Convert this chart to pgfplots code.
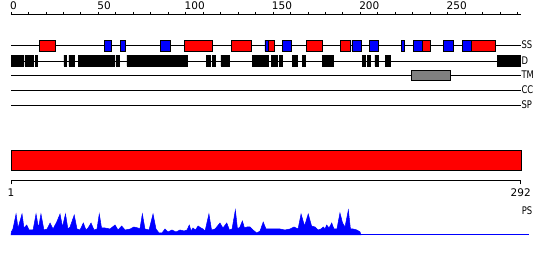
\documentclass[border=0pt]{standalone}
\usepackage{fontspec}
\setmainfont{DejaVu Sans}
\newfontfamily\narrowfont{DejaVu Sans}[FakeStretch=0.8]
\usepackage{pgfplots}
\pgfplotsset{compat=1.18}
\definecolor{ssred}{RGB}{255,0,0}
\definecolor{ssblue}{RGB}{0,0,255}
\definecolor{tmgray}{RGB}{128,128,128}
\begin{document}
\begin{tikzpicture}[x=1pt,y=1pt]
\useasboundingbox (0,0) rectangle (550,260);
% ---------- main canvas: x = sequence position, y = pixels from top
\begin{axis}[at={(0,0)}, anchor=south west, scale only axis,
  width=550pt, height=260pt, xmin=-6.298, xmax=308.6, ymin=0, ymax=260,
  y dir=reverse, hide axis, clip=false, unbounded coords=jump]
% track lines
\addplot[black, line width=1pt] coordinates {(0,45)(292,45)};
\addplot[black, line width=1pt] coordinates {(0,61)(292,61)};
\addplot[black, line width=1pt] coordinates {(0,75)(292,75)};
\addplot[black, line width=1pt] coordinates {(0,90)(292,90)};
\addplot[black, line width=1pt] coordinates {(0,105)(292,105)};
% SS red (helix)
\addplot[fill=ssred, draw=black, line width=0.8pt] coordinates {
(16.2,40)(25.6,40)(25.6,51)(16.2,51)(16.2,40)(nan,nan)
(99.2,40)(115.5,40)(115.5,51)(99.2,51)(99.2,40)(nan,nan)
(126.1,40)(137.8,40)(137.8,51)(126.1,51)(126.1,40)(nan,nan)
(147.5,40)(150.6,40)(150.6,51)(147.5,51)(147.5,40)(nan,nan)
(169.1,40)(178.2,40)(178.2,51)(169.1,51)(169.1,40)(nan,nan)
(188.5,40)(194.5,40)(194.5,51)(188.5,51)(188.5,40)(nan,nan)
(235.7,40)(240.1,40)(240.1,51)(235.7,51)(235.7,40)(nan,nan)
(263.8,40)(277.3,40)(277.3,51)(263.8,51)(263.8,40)
};
% SS blue (strand)
\addplot[fill=ssblue, draw=black, line width=0.8pt] coordinates {
(53.4,40)(57.6,40)(57.6,51)(53.4,51)(53.4,40)(nan,nan)
(62.6,40)(65.7,40)(65.7,51)(62.6,51)(62.6,40)(nan,nan)
(85.5,40)(91.4,40)(91.4,51)(85.5,51)(85.5,40)(nan,nan)
(145.4,40)(147.5,40)(147.5,51)(145.4,51)(145.4,40)(nan,nan)
(155.3,40)(160.7,40)(160.7,51)(155.3,51)(155.3,40)(nan,nan)
(195.2,40)(200.8,40)(200.8,51)(195.2,51)(195.2,40)(nan,nan)
(205.4,40)(210.5,40)(210.5,51)(205.4,51)(205.4,40)(nan,nan)
(223.5,40)(225.4,40)(225.4,51)(223.5,51)(223.5,40)(nan,nan)
(230.3,40)(235.7,40)(235.7,51)(230.3,51)(230.3,40)(nan,nan)
(247.5,40)(253.2,40)(253.2,51)(247.5,51)(247.5,40)(nan,nan)
(258.4,40)(263.8,40)(263.8,51)(258.4,51)(258.4,40)
};
% D (disorder)
\addplot[fill=black, draw=black, line width=0.6pt] coordinates {
(0,55)(7,55)(7,66)(0,66)(0,55)(nan,nan)
(8,55)(12.5,55)(12.5,66)(8,66)(8,55)(nan,nan)
(14,55)(15.3,55)(15.3,66)(14,66)(14,55)(nan,nan)
(30.3,55)(31.5,55)(31.5,66)(30.3,66)(30.3,55)(nan,nan)
(33.2,55)(36.5,55)(36.5,66)(33.2,66)(33.2,55)(nan,nan)
(38.4,55)(59,55)(59,66)(38.4,66)(38.4,55)(nan,nan)
(60.1,55)(61.8,55)(61.8,66)(60.1,66)(60.1,55)(nan,nan)
(66.4,55)(100.8,55)(100.8,66)(66.4,66)(66.4,55)(nan,nan)
(112,55)(114.3,55)(114.3,66)(112,66)(112,55)(nan,nan)
(115.5,55)(117,55)(117,66)(115.5,66)(115.5,55)(nan,nan)
(120.2,55)(124.8,55)(124.8,66)(120.2,66)(120.2,55)(nan,nan)
(138.2,55)(147.5,55)(147.5,66)(138.2,66)(138.2,55)(nan,nan)
(148.9,55)(152.7,55)(152.7,66)(148.9,66)(148.9,55)(nan,nan)
(153.8,55)(155.5,55)(155.5,66)(153.8,66)(153.8,55)(nan,nan)
(161,55)(163.7,55)(163.7,66)(161,66)(161,55)(nan,nan)
(166.8,55)(168.5,55)(168.5,66)(166.8,66)(166.8,55)(nan,nan)
(178.1,55)(184.8,55)(184.8,66)(178.1,66)(178.1,55)(nan,nan)
(201,55)(202.8,55)(202.8,66)(201,66)(201,55)(nan,nan)
(204.2,55)(205.6,55)(205.6,66)(204.2,66)(204.2,55)(nan,nan)
(208.4,55)(210.5,55)(210.5,66)(208.4,66)(208.4,55)(nan,nan)
(214.3,55)(217.4,55)(217.4,66)(214.3,66)(214.3,55)(nan,nan)
(278.4,55)(284,55)(284,66)(278.4,66)(278.4,55)(nan,nan)
(284.9,55)(291.8,55)(291.8,66)(284.9,66)(284.9,55)
};
% TM
\addplot[fill=tmgray, draw=black, line width=0.8pt] coordinates {
(229.2,70)(251.7,70)(251.7,80)(229.2,80)(229.2,70)
};
% big red bar
\addplot[fill=ssred, draw=black, line width=1pt] coordinates {
(0,150)(292,150)(292,170)(0,170)(0,150)
};
% track labels
\node[anchor=west, inner sep=0pt, font=\narrowfont\fontsize{10.5}{12}\selectfont] at (axis cs:292.2,45) {SS};
\node[anchor=west, inner sep=0pt, font=\narrowfont\fontsize{10.5}{12}\selectfont] at (axis cs:292.2,61) {D};
\node[anchor=west, inner sep=0pt, font=\narrowfont\fontsize{10.5}{12}\selectfont] at (axis cs:292.2,75) {TM};
\node[anchor=west, inner sep=0pt, font=\narrowfont\fontsize{10.5}{12}\selectfont] at (axis cs:292.2,90) {CC};
\node[anchor=west, inner sep=0pt, font=\narrowfont\fontsize{10.5}{12}\selectfont] at (axis cs:292.2,105) {SP};
\end{axis}
% ---------- top ruler
\begin{axis}[at={(11pt,245pt)}, anchor=north west, scale only axis,
  width=510pt, height=1pt, xmin=0, xmax=292, ymin=0, ymax=1,
  axis x line=top, axis y line=none, x axis line style={-, line width=1pt},
  xtick={0,50,...,250}, minor xtick={10,20,...,290},
  tick align=outside, major tick length=3pt, minor tick length=3pt,
  every tick/.style={black, line width=0.8pt},
  /pgf/number format/assume math mode=true,
  xticklabel style={anchor=south west, inner sep=0pt, xshift=-1.2pt, yshift=2.5pt,
    font=\fontsize{10.5}{12}\selectfont}]
\addplot[draw=none] coordinates {(0,0)(292,0)};
\end{axis}
% ---------- bottom ruler
\begin{axis}[at={(11pt,79.7pt)}, anchor=south west, scale only axis,
  width=509.7pt, height=1pt, xmin=1, xmax=292, ymin=0, ymax=1,
  axis x line=bottom, axis y line=none, x axis line style={-, line width=1pt},
  xtick={1,292}, tick align=outside, major tick length=4pt,
  every tick/.style={black, line width=0.8pt},
  /pgf/number format/assume math mode=true,
  xticklabel style={inner sep=0pt, yshift=-4pt, font=\fontsize{10.5}{12}\selectfont}]
\addplot[draw=none] coordinates {(1,0)(292,0)};
\end{axis}
% ---------- PS profile
\begin{axis}[at={(11pt,25pt)}, anchor=south west, scale only axis,
  width=509.7pt, height=25pt, xmin=1, xmax=292, ymin=0, ymax=25,
  hide axis, clip=false]
\addplot[fill=ssblue, draw=ssblue, line width=0.5pt] coordinates {
(1,0)(1.2,3)(2.1,6)(3.9,21)(5,7)(7.3,21)(8.4,7)(10,10)(11.3,5)(13.6,5)(15.3,21)(16.7,7)(18.1,21)(19.8,5)(21.6,6)(23.3,12)(25,6)(27.1,13)(29,21)(30.4,8)(32.1,21)(33.5,6)(34.7,8)(37.1,20)(38.7,6)(40.4,5)(42.3,12)(43.8,5)(45,7)(46.7,12)(48.4,5)(50.1,6)(51.4,21)(52.7,7)(54.7,7)(57.5,6)(60.4,10)(62.1,5)(64.2,9)(66.1,5)(69,6)(71.2,8)(73.5,7)(74.6,6)(76,21)(77.5,6)(79.8,5)(82.1,21)(83.8,6)(85.5,2)(87.2,2)(88.9,6)(90.6,3)(92.9,5)(95.2,3)(97.5,5)(99.8,4)(101.5,5)(102.8,10)(103.8,4)(104.9,7)(106.3,5)(107.8,9)(109.5,7)(110.6,6)(111.8,4)(114,21)(115.5,5)(117.5,6)(120.3,12)(122,7)(124.2,12)(125.7,5)(127.2,6)(129.1,25)(130.3,6)(131.7,8)(133.1,14)(134.3,7)(135.7,8)(137.5,8)(139.2,5)(141.3,2)(143.2,4)(145,13)(146.6,6)(148.9,6)(151.7,6)(154.6,6)(157.4,5)(160.3,6)(162.6,8)(164.9,6)(166.6,21)(168.6,9)(170.7,21)(172.6,9)(174.6,8)(176.3,5)(178,6)(179.3,8)(180.3,6)(181.2,10)(182.6,7)(184.1,12)(185.4,6)(187.1,6)(188.8,22)(190.3,12)(191.7,8)(193.6,25)(194.8,6)(196.3,6)(198.5,5)(200.3,3)(200.8,0)
} -- cycle;
\addplot[ssblue, line width=1pt] coordinates {(1,0)(296.7,0)};
\node[inner sep=0pt, font=\narrowfont\fontsize{10.5}{12}\selectfont] at (axis cs:295.6,24) {PS};
\end{axis}
\end{tikzpicture}
\end{document}
